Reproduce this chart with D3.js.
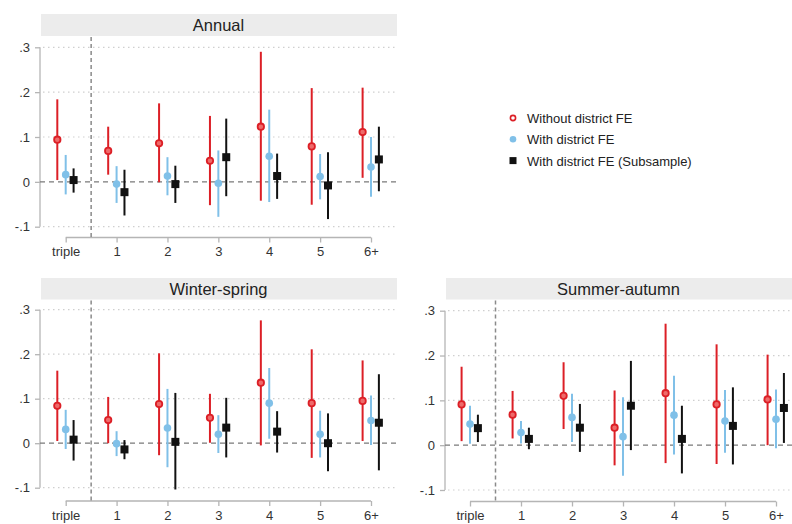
<!DOCTYPE html>
<html>
<head>
<meta charset="utf-8">
<script src="https://cdn.jsdelivr.net/npm/d3@7"></script>
<style>
  body { margin: 0; background: #fff; }
  svg { display: block; font-family: "Liberation Sans", Arial, sans-serif; }
</style>
</head>
<body>
<div class="container"></div>
<script>
// categories on the x axis
var categories = ['triple', '1', '2', '3', '4', '5', '6+'];
var yTicks = [-0.1, 0, 0.1, 0.2, 0.3];
var yTickLabels = ['-.1', '0', '.1', '.2', '.3'];
var seriesNames = ['Without district FE', 'With district FE', 'With district FE (Subsample)'];

// each row: [estimate, lower, upper]
var annualNoFE = [[0.094, 0.004, 0.184], [0.069, 0.016, 0.123], [0.086, -0.001, 0.175], [0.047, -0.052, 0.147], [0.123, -0.042, 0.290], [0.079, -0.051, 0.209], [0.111, 0.009, 0.210]];
var annualFE = [[0.016, -0.028, 0.060], [-0.005, -0.047, 0.035], [0.013, -0.030, 0.055], [-0.003, -0.078, 0.070], [0.057, -0.045, 0.161], [0.012, -0.039, 0.062], [0.033, -0.033, 0.100]];
var annualSub = [[0.004, -0.024, 0.030], [-0.023, -0.075, 0.027], [-0.005, -0.047, 0.036], [0.055, -0.032, 0.141], [0.013, -0.038, 0.063], [-0.008, -0.083, 0.066], [0.050, -0.021, 0.123]];

var winterNoFE = [[0.084, 0.005, 0.163], [0.052, 0.000, 0.104], [0.088, -0.027, 0.202], [0.057, 0.001, 0.111], [0.136, -0.005, 0.276], [0.090, -0.033, 0.211], [0.095, 0.005, 0.186]];
var winterFE = [[0.031, -0.013, 0.075], [-0.001, -0.029, 0.027], [0.034, -0.054, 0.122], [0.020, -0.022, 0.063], [0.090, 0.010, 0.169], [0.020, -0.032, 0.073], [0.051, -0.004, 0.107]];
var winterSub = [[0.008, -0.039, 0.052], [-0.014, -0.036, 0.007], [0.003, -0.104, 0.113], [0.035, -0.032, 0.102], [0.026, -0.021, 0.072], [0.000, -0.063, 0.067], [0.046, -0.061, 0.155]];

var summerNoFE = [[0.091, 0.009, 0.175], [0.068, 0.015, 0.121], [0.110, 0.036, 0.185], [0.039, -0.045, 0.122], [0.116, -0.040, 0.271], [0.091, -0.042, 0.225], [0.102, 0.000, 0.202]];
var summerFE = [[0.047, 0.003, 0.088], [0.028, 0.004, 0.054], [0.062, 0.007, 0.115], [0.019, -0.068, 0.107], [0.067, -0.021, 0.155], [0.054, -0.017, 0.123], [0.058, -0.007, 0.124]];
var summerSub = [[0.038, 0.007, 0.068], [0.014, -0.009, 0.039], [0.039, -0.015, 0.092], [0.088, -0.011, 0.188], [0.014, -0.063, 0.088], [0.043, -0.043, 0.129], [0.083, 0.005, 0.161]];

var colors = ['#dc1f26', '#80c0e8', '#111111'];
var offsets = [-0.165, 0, 0.155];

var svg = d3.select('.container').append('svg')
            .attr('width', 792)
            .attr('height', 524);

var panels = [
  {title: 'Annual', left: 40, right: 397, headTop: 14, headBottom: 36,
   yTop: 47.3, yBottom: 226.7, xAxisY: 237.5, catLeft: 65.7, catRight: 371,
   series: [annualNoFE, annualFE, annualSub]},
  {title: 'Winter-spring', left: 40, right: 397, headTop: 278, headBottom: 299.5,
   yTop: 309.7, yBottom: 487.7, xAxisY: 501, catLeft: 65.7, catRight: 371,
   series: [winterNoFE, winterFE, winterSub]},
  {title: 'Summer-autumn', left: 445, right: 792, headTop: 278, headBottom: 299.5,
   yTop: 310.7, yBottom: 490, xAxisY: 501.5, catLeft: 470, catRight: 776,
   series: [summerNoFE, summerFE, summerSub]}
];

var drawPanel = function(p){
  var g = svg.append('g');
  var x = d3.scaleLinear().domain([0, 6]).range([p.catLeft, p.catRight]);
  var y = d3.scaleLinear().domain([-0.1, 0.3]).range([p.yBottom, p.yTop]);

  // header strip
  g.append('rect')
   .attr('x', p.left + 1).attr('y', p.headTop)
   .attr('width', p.right - p.left - 1).attr('height', p.headBottom - p.headTop)
   .style('fill', '#ececec');
  g.append('text')
   .attr('x', (p.left + p.right) / 2).attr('y', (p.headTop + p.headBottom) / 2 + 6)
   .attr('text-anchor', 'middle')
   .style('font-size', '16.5px').style('fill', '#222')
   .text(p.title);

  // dotted grid
  g.selectAll('.grid').data(yTicks.filter(function(d){ return d !== 0; }))
   .enter().append('line')
   .attr('x1', p.left + 3).attr('x2', p.right)
   .attr('y1', function(d){ return y(d); }).attr('y2', function(d){ return y(d); })
   .style('stroke', '#cfcfcf').style('stroke-width', 1.2)
   .style('stroke-dasharray', '1.5,3.5');

  // y axis
  var yAxis = d3.axisLeft(y).tickValues(yTicks).tickSize(5).tickPadding(5)
                .tickFormat(function(d, i){ return yTickLabels[i]; });
  var ya = g.append('g').attr('transform', 'translate(' + p.left + ',0)').call(yAxis);
  ya.select('.domain').style('stroke', '#b5b5b5').style('stroke-width', 1.3)
    .attr('d', 'M0,' + p.yTop + 'V' + p.yBottom);
  ya.selectAll('.tick line').style('stroke', '#b5b5b5').style('stroke-width', 1.3);
  ya.selectAll('.tick text').style('font-size', '13px').style('fill', '#333').style('font-family', '"Liberation Sans", Arial, sans-serif');

  // x axis
  var xAxis = d3.axisBottom(x).tickValues(d3.range(7)).tickSize(5).tickPadding(4.5)
                .tickFormat(function(d){ return categories[d]; });
  var xa = g.append('g').attr('transform', 'translate(0,' + p.xAxisY + ')').call(xAxis);
  xa.select('.domain').style('stroke', '#b5b5b5').style('stroke-width', 1.3)
    .attr('d', 'M' + p.catLeft + ',0H' + p.catRight);
  xa.selectAll('.tick line').style('stroke', '#b5b5b5').style('stroke-width', 1.3);
  xa.selectAll('.tick text').style('font-size', '13px').style('fill', '#333').style('font-family', '"Liberation Sans", Arial, sans-serif');

  // zero line
  g.append('line')
   .attr('x1', p.left).attr('x2', p.right)
   .attr('y1', y(0)).attr('y2', y(0))
   .style('stroke', '#7a7a7a').style('stroke-width', 1.3)
   .style('stroke-dasharray', '5,4');

  // vertical separator after triple
  g.append('line')
   .attr('x1', x(0.5)).attr('x2', x(0.5))
   .attr('y1', p.headBottom + 1).attr('y2', p.xAxisY)
   .style('stroke', '#8a8a8a').style('stroke-width', 1.5)
   .style('stroke-dasharray', '4,3');

  // error bars and markers
  p.series.forEach(function(data, s){
    var sg = g.append('g');
    sg.selectAll('line').data(data).enter().append('line')
      .attr('x1', function(d, i){ return x(i + offsets[s]); })
      .attr('x2', function(d, i){ return x(i + offsets[s]); })
      .attr('y1', function(d){ return y(d[1]); })
      .attr('y2', function(d){ return y(d[2]); })
      .style('stroke', colors[s]).style('stroke-width', 2);
    if (s === 2) {
      sg.selectAll('rect').data(data).enter().append('rect')
        .attr('x', function(d, i){ return x(i + offsets[s]) - 4; })
        .attr('y', function(d){ return y(d[0]) - 4; })
        .attr('width', 8).attr('height', 8)
        .style('fill', colors[s]);
    } else {
      sg.selectAll('circle').data(data).enter().append('circle')
        .attr('cx', function(d, i){ return x(i + offsets[s]); })
        .attr('cy', function(d){ return y(d[0]); })
        .attr('r', s === 0 ? 3.2 : 3.8)
        .style('fill', s === 0 ? '#ee6a6a' : colors[s])
        .style('stroke', s === 0 ? colors[s] : 'none')
        .style('stroke-width', 1.8);
    }
  });
};

panels.forEach(drawPanel);

// legend
var legend = svg.append('g').attr('transform', 'translate(513,118)');
var items = legend.selectAll('g').data(seriesNames).enter().append('g')
                  .attr('transform', function(d, i){ return 'translate(0,' + (i * 21.3) + ')'; });
items.each(function(d, i){
  var it = d3.select(this);
  if (i === 0) {
    it.append('circle').attr('r', 2.6).style('fill', '#fff')
      .style('stroke', colors[0]).style('stroke-width', 1.6);
  } else if (i === 1) {
    it.append('circle').attr('r', 3.3).style('fill', colors[1]);
  } else {
    it.append('rect').attr('x', -3.5).attr('y', -3.5).attr('width', 7).attr('height', 7)
      .style('fill', colors[2]);
  }
  it.append('text').attr('x', 14).attr('y', 5)
    .style('font-size', '13px').style('fill', '#222')
    .text(d);
});
</script>
</body>
</html>
